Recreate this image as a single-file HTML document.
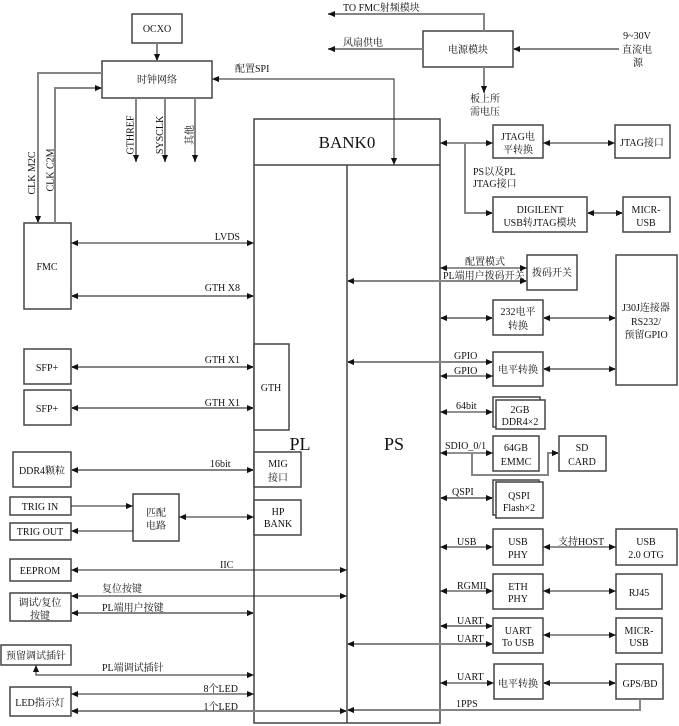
<!DOCTYPE html>
<html><head><meta charset="utf-8"><style>
html,body{margin:0;padding:0;background:#fff;}
svg{display:block;}
text{font-family:"Liberation Serif","Noto Serif CJK SC",serif;font-size:10px;fill:#111;}
.b{fill:#fff;stroke:#444;stroke-width:1.5;}
.k{fill:none;stroke:#222;stroke-width:1;}
.g{fill:none;stroke:#858585;stroke-width:2;}
.m{text-anchor:middle;}
</style></head><body>
<svg width="679" height="726" viewBox="0 0 679 726" xmlns="http://www.w3.org/2000/svg">
<defs>
<marker id="a" viewBox="0 0 8 8" refX="8" refY="4" markerWidth="7" markerHeight="7" markerUnits="userSpaceOnUse" orient="auto-start-reverse"><path d="M0,0.5 L8,4 L0,7.5z" fill="#111"/></marker>
</defs>

<!-- boxes -->
<rect class="b" x="132" y="14" width="50" height="29"/>
<rect class="b" x="102" y="61" width="110" height="37"/>
<rect class="b" x="423" y="31" width="90" height="36"/>
<rect class="b" x="254" y="119" width="186" height="604"/>
<line x1="254" y1="165" x2="440" y2="165" stroke="#444" stroke-width="1.5"/>
<line x1="347" y1="165" x2="347" y2="723" stroke="#444" stroke-width="1.5"/>
<rect class="b" x="493" y="125" width="50" height="33"/>
<rect class="b" x="615" y="125" width="55" height="33"/>
<rect class="b" x="493" y="197" width="94" height="35"/>
<rect class="b" x="623" y="197" width="47" height="35"/>
<rect class="b" x="24" y="223" width="47" height="86"/>
<rect class="b" x="24" y="349" width="47" height="35"/>
<rect class="b" x="24" y="390" width="47" height="35"/>
<rect class="b" x="254" y="344" width="35" height="86"/>
<rect class="b" x="13" y="452" width="58" height="35"/>
<rect class="b" x="254" y="452" width="47" height="35"/>
<rect class="b" x="10" y="497" width="61" height="18"/>
<rect class="b" x="10" y="523" width="61" height="17"/>
<rect class="b" x="133" y="494" width="46" height="47"/>
<rect class="b" x="254" y="500" width="47" height="35"/>
<rect class="b" x="10" y="559" width="61" height="22"/>
<rect class="b" x="10" y="593" width="61" height="28"/>
<rect class="b" x="1" y="645" width="70" height="20"/>
<rect class="b" x="10" y="687" width="61" height="29"/>
<rect class="b" x="527" y="255" width="50" height="35"/>
<rect class="b" x="616" y="255" width="61" height="130"/>
<rect class="b" x="493" y="300" width="50" height="35"/>
<rect class="b" x="493" y="352" width="50" height="34"/>
<rect class="b" x="493" y="397" width="47" height="30"/>
<rect class="b" x="496" y="400" width="49" height="29"/>
<rect class="b" x="493" y="436" width="46" height="35"/>
<rect class="b" x="559" y="436" width="47" height="35"/>
<rect class="b" x="493" y="480" width="46" height="35"/>
<rect class="b" x="496" y="482" width="47" height="36"/>
<rect class="b" x="493" y="529" width="50" height="36"/>
<rect class="b" x="616" y="529" width="61" height="36"/>
<rect class="b" x="493" y="574" width="50" height="35"/>
<rect class="b" x="616" y="574" width="46" height="35"/>
<rect class="b" x="493" y="618" width="50" height="35"/>
<rect class="b" x="616" y="618" width="46" height="35"/>
<rect class="b" x="494" y="664" width="49" height="35"/>
<rect class="b" x="616" y="664" width="47" height="35"/>

<!-- connectors -->
<path class="g" d="M157,43 V61" marker-end="url(#a)"/>
<path class="g" d="M102,73 H38 V223" marker-end="url(#a)"/>
<path class="g" d="M55,223 V88 H102" marker-end="url(#a)"/>
<path class="g" d="M136,98 V162" marker-end="url(#a)"/>
<path class="g" d="M165,98 V162" marker-end="url(#a)"/>
<path class="g" d="M195,98 V162" marker-end="url(#a)"/>
<path class="k" d="M212,79 H394 V165" marker-start="url(#a)" marker-end="url(#a)"/>
<path class="g" d="M484,31 V14 H328" marker-end="url(#a)"/>
<path class="g" d="M423,49 H328" marker-end="url(#a)"/>
<path class="g" d="M619,49 H513" marker-end="url(#a)"/>
<path class="g" d="M484,67 V93" marker-end="url(#a)"/>
<path class="k" d="M440,143 H493" marker-start="url(#a)" marker-end="url(#a)"/>
<path class="k" d="M543,143 H615" marker-start="url(#a)" marker-end="url(#a)"/>
<path class="g" d="M465,143 V213 H493" marker-end="url(#a)"/>
<path class="g" d="M587,213 H623" marker-start="url(#a)" marker-end="url(#a)"/>
<path class="k" d="M71,243 H254" marker-start="url(#a)" marker-end="url(#a)"/>
<path class="g" d="M71,296 H254" marker-start="url(#a)" marker-end="url(#a)"/>
<path class="g" d="M71,367 H254" marker-start="url(#a)" marker-end="url(#a)"/>
<path class="g" d="M71,408 H254" marker-start="url(#a)" marker-end="url(#a)"/>
<path class="g" d="M71,470 H254" marker-start="url(#a)" marker-end="url(#a)"/>
<path class="k" d="M71,506 H133" marker-end="url(#a)"/>
<path class="k" d="M133,531 H71" marker-end="url(#a)"/>
<path class="k" d="M179,517 H254" marker-start="url(#a)" marker-end="url(#a)"/>
<path class="k" d="M71,570 H347" marker-start="url(#a)" marker-end="url(#a)"/>
<path class="k" d="M71,596 H347" marker-start="url(#a)" marker-end="url(#a)"/>
<path class="g" d="M71,613 H254" marker-start="url(#a)" marker-end="url(#a)"/>
<path class="k" d="M254,675 H36 V665" marker-start="url(#a)" marker-end="url(#a)"/>
<path class="k" d="M71,694 H254" marker-start="url(#a)" marker-end="url(#a)"/>
<path class="g" d="M71,711 H347" marker-start="url(#a)" marker-end="url(#a)"/>
<path class="k" d="M440,268 H527" marker-start="url(#a)" marker-end="url(#a)"/>
<path class="g" d="M347,281 H527" marker-start="url(#a)" marker-end="url(#a)"/>
<path class="g" d="M440,318 H493" marker-start="url(#a)" marker-end="url(#a)"/>
<path class="g" d="M543,318 H616" marker-start="url(#a)" marker-end="url(#a)"/>
<path class="g" d="M347,362 H493" marker-start="url(#a)" marker-end="url(#a)"/>
<path class="k" d="M440,376 H493" marker-start="url(#a)" marker-end="url(#a)"/>
<path class="g" d="M543,369 H616" marker-start="url(#a)" marker-end="url(#a)"/>
<path class="k" d="M440,412 H493" marker-start="url(#a)" marker-end="url(#a)"/>
<path class="k" d="M440,453 H493" stroke-width="1.5" marker-start="url(#a)" marker-end="url(#a)"/>
<path class="g" d="M472,453 V475 H548 V453 H559" marker-end="url(#a)"/>
<path class="g" d="M440,498 H493" marker-start="url(#a)" marker-end="url(#a)"/>
<path class="k" d="M440,547 H493" marker-start="url(#a)" marker-end="url(#a)"/>
<path class="k" d="M543,547 H616" marker-start="url(#a)" marker-end="url(#a)"/>
<path class="k" d="M440,591 H493" marker-start="url(#a)" marker-end="url(#a)"/>
<path class="k" d="M543,591 H616" marker-start="url(#a)" marker-end="url(#a)"/>
<path class="g" d="M440,626 H493" marker-start="url(#a)" marker-end="url(#a)"/>
<path class="g" d="M347,644 H493" marker-start="url(#a)" marker-end="url(#a)"/>
<path class="k" d="M543,635 H616" marker-start="url(#a)" marker-end="url(#a)"/>
<path class="k" d="M440,683 H494" marker-start="url(#a)" marker-end="url(#a)"/>
<path class="g" d="M543,683 H616" marker-start="url(#a)" marker-end="url(#a)"/>
<path class="g" d="M640,699 V710 H347" marker-end="url(#a)"/>

<!-- labels -->
<text class="m" x="157" y="32">OCXO</text>
<text class="m" x="157" y="83">时钟网络</text>
<text class="m" transform="translate(133.5,135) rotate(-90)">GTHREF</text>
<text class="m" transform="translate(163,135) rotate(-90)">SYSCLK</text>
<text class="m" transform="translate(193,135) rotate(-90)">其他</text>
<text class="m" transform="translate(35,173) rotate(-90)">CLK M2C</text>
<text class="m" transform="translate(53.5,170) rotate(-90)">CLK C2M</text>
<text x="235" y="72">配置SPI</text>
<text x="343" y="11">TO FMC射频模块</text>
<text x="343" y="46">风扇供电</text>
<text class="m" x="468" y="53">电源模块</text>
<text class="m" x="637" y="39">9~30V</text>
<text class="m" x="637" y="53">直流电</text>
<text class="m" x="638" y="66">源</text>
<text x="470" y="102">板上所</text>
<text x="470" y="115">需电压</text>
<text class="m" x="347" y="148" style="font-size:17px">BANK0</text>
<text class="m" x="518" y="140">JTAG电</text>
<text class="m" x="518" y="153">平转换</text>
<text class="m" x="642" y="146">JTAG接口</text>
<text x="473" y="175">PS以及PL</text>
<text x="473" y="187">JTAG接口</text>
<text class="m" x="540" y="213">DIGILENT</text>
<text class="m" x="540" y="226">USB转JTAG模块</text>
<text class="m" x="646" y="213">MICR-</text>
<text class="m" x="646" y="226">USB</text>
<text class="m" x="47" y="270">FMC</text>
<text x="240" y="240" style="text-anchor:end">LVDS</text>
<text x="240" y="291" style="text-anchor:end">GTH X8</text>
<text x="240" y="363" style="text-anchor:end">GTH X1</text>
<text x="240" y="406" style="text-anchor:end">GTH X1</text>
<text class="m" x="47" y="371">SFP+</text>
<text class="m" x="47" y="412">SFP+</text>
<text class="m" x="271" y="391">GTH</text>
<text class="m" x="300" y="450" style="font-size:18px">PL</text>
<text class="m" x="394" y="450" style="font-size:18px">PS</text>
<text class="m" x="42" y="474">DDR4颗粒</text>
<text x="210" y="467">16bit</text>
<text class="m" x="278" y="467">MIG</text>
<text class="m" x="278" y="481">接口</text>
<text class="m" x="40" y="510">TRIG IN</text>
<text class="m" x="40" y="535">TRIG OUT</text>
<text class="m" x="156" y="516">匹配</text>
<text class="m" x="156" y="529">电路</text>
<text class="m" x="278" y="515">HP</text>
<text class="m" x="278" y="527">BANK</text>
<text class="m" x="40" y="574">EEPROM</text>
<text x="220" y="568">IIC</text>
<text x="102" y="592">复位按键</text>
<text class="m" x="40" y="606">调试/复位</text>
<text class="m" x="40" y="619">按键</text>
<text x="102" y="611">PL端用户按键</text>
<text class="m" x="36" y="659">预留调试插针</text>
<text x="102" y="671">PL端调试插针</text>
<text x="238" y="692" style="text-anchor:end">8个LED</text>
<text x="238" y="710" style="text-anchor:end">1个LED</text>
<text class="m" x="40" y="706">LED指示灯</text>
<text class="m" x="485" y="265">配置模式</text>
<text x="443" y="279">PL端用户拨码开关</text>
<text class="m" x="552" y="276">拨码开关</text>
<text class="m" x="518" y="315">232电平</text>
<text class="m" x="518" y="329">转换</text>
<text class="m" x="646" y="311">J30J连接器</text>
<text class="m" x="646" y="325">RS232/</text>
<text class="m" x="646" y="338">预留GPIO</text>
<text x="454" y="359">GPIO</text>
<text x="454" y="374">GPIO</text>
<text class="m" x="518" y="373">电平转换</text>
<text x="456" y="409">64bit</text>
<text class="m" x="520" y="413">2GB</text>
<text class="m" x="520" y="425">DDR4×2</text>
<text x="445" y="449">SDIO_0/1</text>
<text class="m" x="516" y="451">64GB</text>
<text class="m" x="516" y="465">EMMC</text>
<text class="m" x="582" y="451">SD</text>
<text class="m" x="582" y="465">CARD</text>
<text x="452" y="495">QSPI</text>
<text class="m" x="519" y="499">QSPI</text>
<text class="m" x="519" y="511">Flash×2</text>
<text x="457" y="545">USB</text>
<text class="m" x="518" y="545">USB</text>
<text class="m" x="518" y="558">PHY</text>
<text x="558" y="545">支持HOST</text>
<text class="m" x="646" y="545">USB</text>
<text class="m" x="646" y="558">2.0 OTG</text>
<text x="457" y="589">RGMII</text>
<text class="m" x="518" y="590">ETH</text>
<text class="m" x="518" y="602">PHY</text>
<text class="m" x="639" y="596">RJ45</text>
<text x="457" y="624">UART</text>
<text x="457" y="642">UART</text>
<text class="m" x="518" y="634">UART</text>
<text class="m" x="518" y="646">To USB</text>
<text class="m" x="639" y="634">MICR-</text>
<text class="m" x="639" y="646">USB</text>
<text x="457" y="680">UART</text>
<text class="m" x="518" y="687">电平转换</text>
<text class="m" x="640" y="687">GPS/BD</text>
<text x="456" y="707">1PPS</text>
</svg>
</body></html>
